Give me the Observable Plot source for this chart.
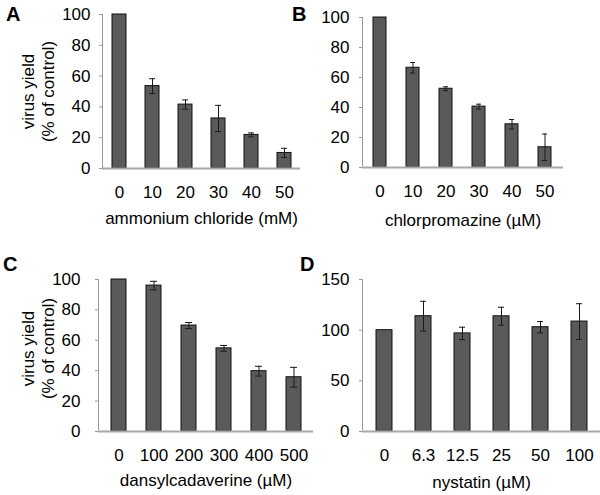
<!DOCTYPE html>
<html>
<head>
<meta charset="utf-8">
<script src="https://cdn.jsdelivr.net/npm/d3@7"></script>
<script src="https://cdn.jsdelivr.net/npm/@observablehq/plot@0.6"></script>
<style>
  html, body { margin: 0; padding: 0; background: #fff; }
  #root { position: relative; width: 600px; height: 495px; font-family: "Liberation Sans", Arial, sans-serif; }
  .panel { position: absolute; }
  .letter { position: absolute; font-weight: bold; font-size: 20px; line-height: 1; color: #000; }
  svg { overflow: visible; }
</style>
</head>
<body>
<div id="root"></div>
<script>
// ---- data ----
const catsA = ["0", "10", "20", "30", "40", "50"];
const valsA = [100, 53.5, 41.5, 32.5, 21.8, 10.1];
const errA  = [0, 4.8, 3.0, 8.5, 1.3, 3.0];

const catsB = ["0", "10", "20", "30", "40", "50"];
const valsB = [100, 66.5, 52.5, 40.6, 28.8, 13.5];
const errB  = [0, 3.5, 1.3, 1.6, 3.2, 8.8];

const catsC = ["0", "100", "200", "300", "400", "500"];
const valsC = [100, 96, 69.7, 54.7, 39.7, 35.7];
const errC  = [0, 2.8, 2.0, 1.9, 3.2, 6.5];

const catsD = ["0", "6.3", "12.5", "25", "50", "100"];
const valsD = [100, 113.8, 96.8, 113.7, 102.9, 108.5];
const errD  = [0, 14.7, 6.1, 8.9, 5.6, 17.6];

const ticksAC = [0, 20, 40, 60, 80, 100];
const ticksD = [0, 50, 100, 150];

const titles = ["ammonium chloride (mM)", "chlorpromazine (\u00b5M)", "dansylcadaverine (\u00b5M)", "nystatin (\u00b5M)"];
const yLabel = "virus yield\n(% of control)";
const letters = ["A", "B", "C", "D"];

const root = document.getElementById("root");
const FS = 17;

function panel(cfg) {
  const data = cfg.cats.map((c, i) => ({c, v: cfg.vals[i], e: cfg.errs[i]}));
  const errData = data.filter(d => d.e > 0);
  const marks = [
    Plot.barY(data, {x: "c", y: "v", fill: "#5a5a5a", stroke: "#111", strokeWidth: 1}),
    Plot.ruleX(errData, {x: "c", y1: d => d.v - d.e, y2: d => d.v + d.e, stroke: "#1a1a1a", strokeWidth: 1}),
    Plot.tickY(errData, {x: "c", y: d => d.v - d.e, stroke: "#1a1a1a", strokeWidth: 1, inset: cfg.capInset}),
    Plot.tickY(errData, {x: "c", y: d => d.v + d.e, stroke: "#1a1a1a", strokeWidth: 1, inset: cfg.capInset}),
    Plot.frame({anchor: "left", stroke: "#9a9a9a", strokeWidth: 1}),
    Plot.ruleY([0], {stroke: "#a8a8a8", strokeWidth: 2}),
    Plot.axisY({ticks: cfg.yticks, tickSize: 3, tickPadding: cfg.yPad, stroke: "#9a9a9a", fill: "#000", label: null, fontSize: FS}),
    Plot.axisX({tickSize: 0, tickPadding: cfg.xPad, label: null, fontSize: FS, fill: "#000"}),
    Plot.text([cfg.title], {frameAnchor: "bottom", dy: cfg.titleDy, fontSize: FS, fill: "#000", lineAnchor: "middle", textAnchor: "middle"})
  ];
  if (cfg.ylab) {
    marks.push(Plot.text([yLabel], {frameAnchor: "left", rotate: -90, dx: cfg.ylabDx, dy: cfg.ylabDy, fontSize: FS, fill: "#000", lineAnchor: "middle", textAnchor: "middle", lineHeight: 1.2}));
  }
  const svg = Plot.plot({
    width: cfg.width,
    height: cfg.height,
    marginLeft: cfg.ml, marginRight: cfg.mr, marginTop: cfg.mt, marginBottom: cfg.mb,
    style: {fontFamily: '"Liberation Sans", Arial, sans-serif', fontSize: FS + "px", background: "transparent", overflow: "visible", maxWidth: "none"},
    x: {domain: cfg.cats, paddingInner: cfg.pad, paddingOuter: cfg.pad / 2, align: 0.5},
    y: {domain: cfg.ydomain},
    marks
  });
  const div = document.createElement("div");
  div.className = "panel";
  div.style.left = cfg.left + "px";
  div.style.top = cfg.top + "px";
  div.appendChild(svg);
  root.appendChild(div);
}

panel({cats: catsA, vals: valsA, errs: errA, yticks: ticksAC, ydomain: [0, 100], title: titles[0], ylab: true,
  left: 0, top: 0, width: 300, height: 235, ml: 102, mr: 0, mt: 14, mb: 67, pad: 0.58, capInset: 4,
  xPad: 17, yPad: 9, titleDy: 50, ylabDx: -65, ylabDy: 0});
panel({cats: catsB, vals: valsB, errs: errB, yticks: ticksAC, ydomain: [0, 100], title: titles[1], ylab: false,
  left: 300, top: 0, width: 300, height: 235, ml: 62, mr: 37, mt: 17, mb: 68, pad: 0.6, capInset: 4,
  xPad: 17, yPad: 10, titleDy: 53});
panel({cats: catsC, vals: valsC, errs: errC, yticks: ticksAC, ydomain: [0, 100], title: titles[2], ylab: true,
  left: 0, top: 250, width: 320, height: 245, ml: 98, mr: 7, mt: 29, mb: 64, pad: 0.58, capInset: 4,
  xPad: 17, yPad: 15, titleDy: 49, ylabDx: -61, ylabDy: -7});
panel({cats: catsD, vals: valsD, errs: errD, yticks: ticksD, ydomain: [0, 150], title: titles[3], ylab: false,
  left: 300, top: 250, width: 300, height: 245, ml: 62, mr: 0, mt: 29, mb: 64, pad: 0.6, capInset: 5,
  xPad: 17, yPad: 10, titleDy: 51});

const letterPos = [[6, 4], [292, 4], [3, 254], [300, 254]];
letters.forEach((t, i) => {
  const d = document.createElement("div");
  d.className = "letter";
  d.textContent = t;
  d.style.left = letterPos[i][0] + "px";
  d.style.top = letterPos[i][1] + "px";
  root.appendChild(d);
});
</script>
</body>
</html>
